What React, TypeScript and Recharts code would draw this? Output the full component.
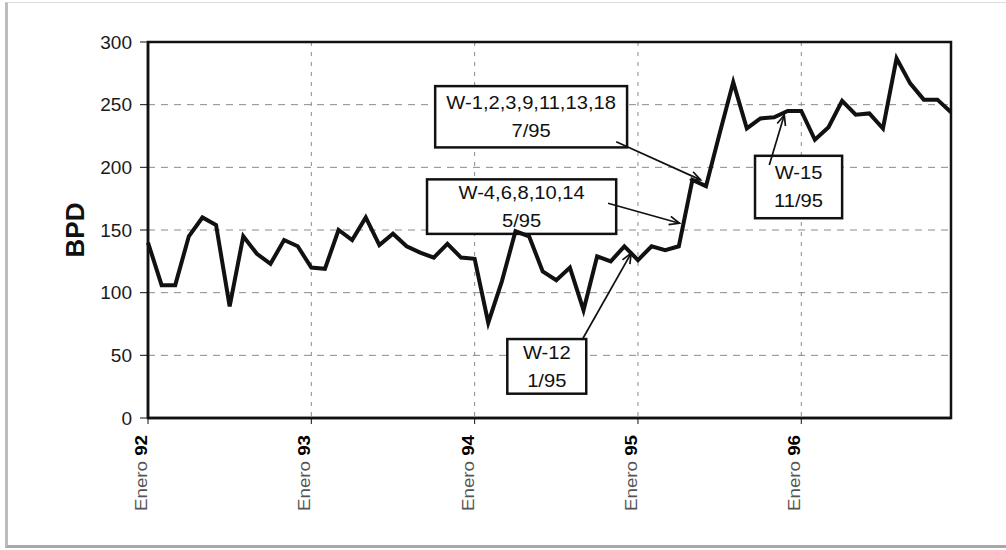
import { CartesianGrid, Line, LineChart, ReferenceArea, ReferenceLine, XAxis, YAxis } from "recharts";

// monthly production, Enero 92 .. Diciembre 96 (index 0..59)
const bpd = [
  140, 106, 106, 145, 160, 154, 89, 145, 131, 123, 142, 137,
  120, 119, 150, 142, 160, 138, 147, 137, 132, 128, 139, 128,
  127, 76, 109, 149, 145, 117, 110, 120, 86, 129, 125, 137,
  126, 137, 134, 137, 190, 185, 227, 268, 231, 239, 240, 245,
  245, 222, 232, 253, 242, 243, 231, 287, 267, 254, 254, 244,
];
const yearTicks = [0, 12, 24, 36, 48];
const yearLabels = ["92", "93", "94", "95", "96"];
const yTicks = [0, 50, 100, 150, 200, 250, 300];

// well annotations: box corners and arrow ends in data units (month index, BPD)
const notes = [
  { lines: ["W-1,2,3,9,11,13,18", "7/95"], box: [21.1, 35.2, 215.9, 264.8], from: [34.4, 220.4], to: [40.6, 190] },
  { lines: ["W-4,6,8,10,14", "5/95"], box: [20.5, 34.4, 146.9, 190.4], from: [33.8, 171.3], to: [39.05, 155.4] },
  { lines: ["W-12", "1/95"], box: [26.4, 32.2, 19.4, 63], from: [31.9, 62.4], to: [35.5, 131.5] },
  { lines: ["W-15", "11/95"], box: [44.6, 51.0, 159.4, 209.2], from: [45.65, 201.8], to: [46.75, 241.7] },
];

const data = bpd.map((v, i) => ({ m: i, bpd: v }));
const FONT = "'Liberation Sans', Arial, sans-serif";

function XTick({ x, y, payload }: any) {
  const yr = yearLabels[yearTicks.indexOf(payload.value)];
  return (
    <g transform={`translate(${x},${y})`}>
      <text transform="rotate(-90)" x={-9} y={-1} textAnchor="end" fontSize={16} fontFamily={FONT} textLength={76} lengthAdjust="spacingAndGlyphs">
        <tspan fill="#555">Enero </tspan>
        <tspan fill="#000" fontWeight="bold">{yr}</tspan>
      </text>
    </g>
  );
}

function Arrow({ x1, y1, x2, y2 }: any) {
  const a = Math.atan2(y2 - y1, x2 - x1);
  const len = 11;
  const p1 = [x2 - len * Math.cos(a - 0.4), y2 - len * Math.sin(a - 0.4)];
  const p2 = [x2 - len * Math.cos(a + 0.4), y2 - len * Math.sin(a + 0.4)];
  return (
    <g stroke="#111" strokeWidth={1.7} fill="none">
      <line x1={x1} y1={y1} x2={x2} y2={y2} />
      <polyline points={`${p1[0]},${p1[1]} ${x2},${y2} ${p2[0]},${p2[1]}`} />
    </g>
  );
}

const noteBox = (lines: string[]) => (p: any) => {
  const cx = p.x + p.width / 2;
  const cy = p.y + p.height / 2;
  return (
    <g>
      <rect x={p.x} y={p.y} width={p.width} height={p.height} fill="#fff" stroke="#111" strokeWidth={2.5} />
      {lines.map((t, i) => (
        <g key={i} transform={`translate(${cx},${cy + (i - 0.5) * 28}) scale(1.12,1)`}>
          <text x={0} y={0} dy="0.35em" textAnchor="middle" fontSize={18} fontFamily={FONT} fill="#111">
            {t}
          </text>
        </g>
      ))}
    </g>
  );
};

export default function App() {
  return (
    <div style={{ position: "fixed", left: 0, top: 0, width: 1006, height: 550, background: "#fff", overflow: "hidden" }}>
      <div
        style={{
          position: "absolute",
          left: 5,
          top: 2,
          width: 1020,
          height: 542,
          borderLeft: "3px solid #bdbdbd",
          borderTop: "1px solid #dcdcdc",
          borderBottom: "3px solid #a8a8a8",
        }}
      />
      <div style={{ position: "absolute", left: 0, top: 0 }}>
        <LineChart width={1006} height={550} data={data} margin={{ top: 42, right: 55, bottom: 0, left: 0 }}>
          <CartesianGrid horizontal vertical={false} stroke="#8a8a8a" strokeDasharray="7 6" />
          <CartesianGrid horizontal={false} vertical stroke="#8a8a8a" strokeDasharray="4 6" />
          <XAxis
            dataKey="m"
            type="number"
            domain={[0, 59]}
            ticks={yearTicks}
            interval={0}
            height={132}
            tickSize={6}
            tickMargin={2}
            axisLine={{ stroke: "#111", strokeWidth: 2.5 }}
            tickLine={{ stroke: "#111" }}
            tick={<XTick />}
          />
          <YAxis
            domain={[0, 300]}
            ticks={yTicks}
            width={148}
            tickSize={8}
            tickMargin={8}
            axisLine={{ stroke: "#111", strokeWidth: 2.5 }}
            tickLine={{ stroke: "#111" }}
            tick={{ fill: "#1a1a1a", fontSize: 19, fontFamily: FONT }}
            label={{
              content: (p: any) => {
                const vb = p.viewBox;
                return (
                  <text
                    x={vb.x + 84}
                    y={vb.y + vb.height / 2}
                    transform={`rotate(-90, ${vb.x + 84}, ${vb.y + vb.height / 2})`}
                    textAnchor="middle"
                    fontSize={26}
                    fontWeight="bold"
                    fontFamily={FONT}
                    fill="#111"
                  >
                    BPD
                  </text>
                );
              },
            }}
          />
          <Line type="linear" dataKey="bpd" stroke="#111" strokeWidth={4} dot={false} isAnimationActive={false} />
          <ReferenceArea x1={0} x2={59} y1={0} y2={300} fill="none" stroke="#111" strokeWidth={2.5} fillOpacity={0} />
          {notes.map((n, i) => (
            <ReferenceArea key={`b${i}`} x1={n.box[0]} x2={n.box[1]} y1={n.box[2]} y2={n.box[3]} shape={noteBox(n.lines)} />
          ))}
          {notes.map((n, i) => (
            <ReferenceLine
              key={`a${i}`}
              segment={[
                { x: n.from[0], y: n.from[1] },
                { x: n.to[0], y: n.to[1] },
              ]}
              shape={<Arrow />}
            />
          ))}
        </LineChart>
      </div>
    </div>
  );
}
